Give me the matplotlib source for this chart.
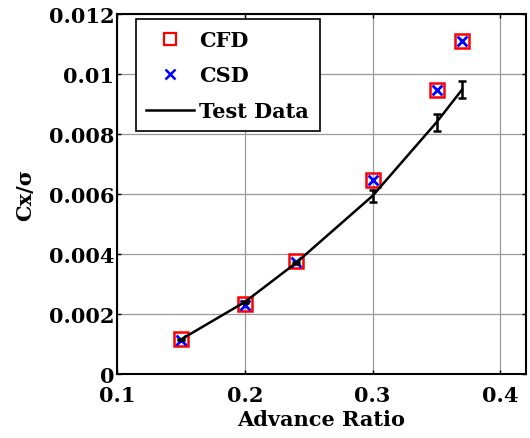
import matplotlib
matplotlib.use("Agg")
import matplotlib.pyplot as plt
from matplotlib.lines import Line2D

adv_ratio = [0.15, 0.20, 0.24, 0.30, 0.35, 0.37]
cfd = [0.00117, 0.00233, 0.00376, 0.00647, 0.00947, 0.01110]
csd = [0.00115, 0.00230, 0.00374, 0.00647, 0.00947, 0.01110]
test = [0.00115, 0.00240, 0.00370, 0.00594, 0.00839, 0.00948]
test_err = [0.00003, 0.00003, 0.00003, 0.00020, 0.00028, 0.00029]

plt.rcParams['font.family'] = ['DejaVu Serif']
plt.rcParams['font.weight'] = 'bold'

fs = 15
fig = plt.figure(figsize=(5.30, 4.39), dpi=100)
ax = fig.add_axes([117/530, 1-375/439, (526-117)/530, (375-15)/439])

ax.plot(adv_ratio, cfd, 's', mfc='none', mec='red', mew=1.8, ms=9.5, label='CFD', zorder=3)
ax.plot(adv_ratio, csd, 'x', color='blue', mew=2.0, ms=7.5, label='CSD', zorder=4)
ax.errorbar(adv_ratio, test, yerr=test_err, color='black', lw=1.8, capsize=3, elinewidth=1.8,
            capthick=1.8, label='Test Data', zorder=5)

ax.set_xlim(0.1, 0.42)
ax.set_ylim(0, 0.012)
ax.set_xticks([0.1, 0.2, 0.3, 0.4])
ax.set_xticklabels(['0.1', '0.2', '0.3', '0.4'])
ax.set_yticks([0, 0.002, 0.004, 0.006, 0.008, 0.01, 0.012])
ax.set_yticklabels(['0', '0.002', '0.004', '0.006', '0.008', '0.01', '0.012'])
ax.grid(True, color='#999999', lw=0.9)
ax.tick_params(direction='in', top=True, right=True, labelsize=fs, length=3, width=1.0)
ax.tick_params(axis='y', pad=2)
ax.tick_params(axis='x', pad=8)
for s in ax.spines.values():
    s.set_linewidth(1.5)
ax.set_xlabel('Advance Ratio', fontsize=fs, fontweight='bold', labelpad=3)
ax.set_ylabel('Cx/σ', fontsize=fs, fontweight='bold', labelpad=10)

handles = [Line2D([], [], marker='s', ls='none', mfc='none', mec='red', mew=1.6, ms=8.5),
           Line2D([], [], marker='x', ls='none', color='blue', mew=1.8, ms=7),
           Line2D([], [], color='black', lw=1.8)]
leg = ax.legend(handles, ['CFD', 'CSD', 'Test Data'], loc='upper left', bbox_to_anchor=(0.046, 0.985),
                fontsize=fs, frameon=True, fancybox=False, edgecolor='black', framealpha=1,
                handlelength=2.3, handletextpad=0.25, borderpad=0.5, labelspacing=0.75, borderaxespad=0)
leg.get_frame().set_linewidth(1.2)

fig.savefig('out.png', dpi=100)
